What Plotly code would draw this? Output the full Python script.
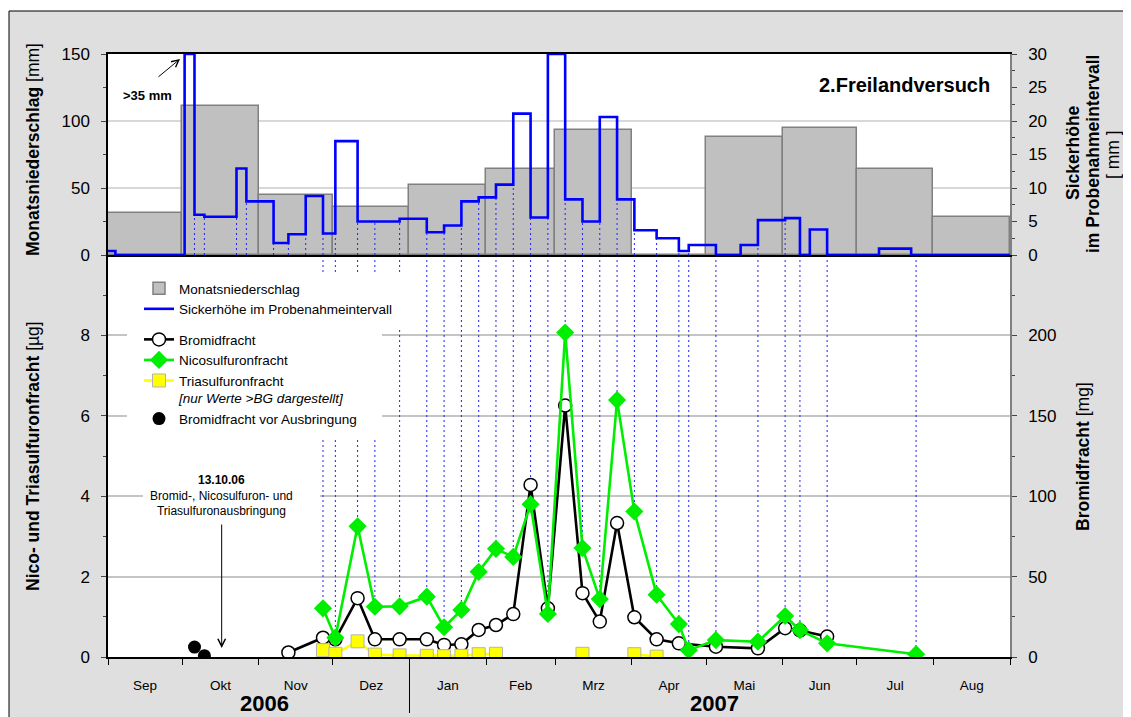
import plotly.graph_objects as go
from datetime import datetime

FONT = "Liberation Sans, Arial, Helvetica, sans-serif"

# ---------------- data ----------------
month_starts = ["2006-09-01", "2006-10-01", "2006-11-01", "2006-12-01", "2007-01-01", "2007-02-01",
                "2007-03-01", "2007-04-01", "2007-05-01", "2007-06-01", "2007-07-01", "2007-08-01"]
month_labels = ["Sep", "Okt", "Nov", "Dez", "Jan", "Feb", "Mrz", "Apr", "Mai", "Jun", "Jul", "Aug"]
precip_mm = [31, 111, 45, 36, 52, 64, 93, 0, 88, 95, 64, 28]

# Sickerhoehe im Probenahmeintervall (step: value valid from start date to next start date)
sick_starts = ["2006-09-01", "2006-09-04", "2006-10-02", "2006-10-06", "2006-10-10", "2006-10-23",
               "2006-10-27", "2006-11-07", "2006-11-13", "2006-11-20", "2006-11-27", "2006-12-02",
               "2006-12-11", "2006-12-18", "2006-12-28", "2007-01-08", "2007-01-15", "2007-01-22",
               "2007-01-29", "2007-02-05", "2007-02-12", "2007-02-19", "2007-02-26", "2007-03-05",
               "2007-03-12", "2007-03-19", "2007-03-26", "2007-04-02", "2007-04-11", "2007-04-20",
               "2007-04-24", "2007-05-05", "2007-05-15", "2007-05-22", "2007-06-02", "2007-06-08",
               "2007-06-12", "2007-06-19", "2007-07-10", "2007-07-23"]
sick_mm = [0.6, 0, 36, 6.0, 5.7, 12.9,
           8.0, 1.8, 3.1, 8.8, 3.2, 17.0,
           5.0, 5.0, 5.4, 3.4, 4.4, 8.0,
           8.6, 10.5, 21.1, 5.6, 31, 8.3,
           5.0, 20.6, 8.3, 3.7, 2.5, 0.6,
           1.5, 0, 1.5, 5.2, 5.5, 0,
           3.8, 0, 0.95, 0]

sample_dates = ["2006-11-13", "2006-11-27", "2006-12-02", "2006-12-11", "2006-12-18", "2006-12-28",
                "2007-01-08", "2007-01-15", "2007-01-22", "2007-01-29", "2007-02-05", "2007-02-12",
                "2007-02-19", "2007-02-26", "2007-03-05", "2007-03-12", "2007-03-19", "2007-03-26",
                "2007-04-02", "2007-04-11", "2007-04-20", "2007-04-24", "2007-05-05", "2007-05-22",
                "2007-06-02", "2007-06-08", "2007-06-19", "2007-07-25"]
bromid_mg = [2.8, 12, 11, 36.6, 11, 11,
             11, 7.5, 7.9, 16.8, 19.9, 26.7,
             107, 30.3, 156.4, 39.7, 22, 83.3,
             24.7, 11, 8.5, None, 6.4, 5.4,
             17.9, 16.5, 12.7, None]
nico_ug = [None, 1.21, 0.48, 3.25, 1.25, 1.26,
           1.5, 0.74, 1.17, 2.12, 2.69, 2.49,
           3.8, 1.07, 8.07, 2.71, 1.44, 6.39,
           3.62, 1.55, 0.82, 0.17, 0.42, 0.38,
           1.02, 0.67, 0.34, 0.07]
trias_ug = [None, 0.17, 0.08, 0.39, 0.06, 0.04,
            0.03, 0.02, 0.03, 0.07, 0.08, None,
            None, None, None, 0.08, None, None,
            0.07, 0.01, None, None, None, None,
            None, None, None, None]

pre_dates = ["2006-10-06", "2006-10-10"]
pre_bromid_mg = [6.2, 0.8]

X_START, X_END = "2006-09-01", "2007-09-01"
PREC_MAX, SICK_MAX, UG_MAX, MG_MAX = 150, 30, 10, 250


def d(s):
    return datetime.strptime(s, "%Y-%m-%d")


month_ends = month_starts[1:] + [X_END]
bar_widths = [(d(e) - d(s)).total_seconds() * 1000 for s, e in zip(month_starts, month_ends)]
mid_months = [d(s) + (d(e) - d(s)) / 2 for s, e in zip(month_starts, month_ends)]

# step line (values above the axis maximum are shown at the top edge)
sick_plot = [min(v, SICK_MAX) for v in sick_mm]
step_x = sick_starts + [X_END]
step_y = sick_plot + [sick_plot[-1]]

# dotted sampling lines, top panel
top_dx, top_dy = [], []
for i in range(2, len(sick_starts)):
    h = max(sick_plot[i - 1], sick_plot[i])
    top_dx += [sick_starts[i], sick_starts[i], None]
    top_dy += [0, h, None]

# dotted sampling lines, bottom panel (in mg units of the bromide axis)
k = MG_MAX / UG_MAX
bot_dx, bot_dy = [], []
for dt, b, n, t in zip(sample_dates, bromid_mg, nico_ug, trias_ug):
    if n is None:
        continue
    low = max(b or 0, n * k, (t or 0) * k)
    bot_dx += [dt, dt, None]
    bot_dy += [MG_MAX, low, None]

fig = go.Figure()
DOT = dict(color="#2020ff", width=1, dash="2px,3px")

fig.add_trace(go.Bar(x=month_starts, y=precip_mm, width=bar_widths, offset=0,
                     marker=dict(color="#c0c0c0", line=dict(color="#808080", width=1.5)),
                     name="Monatsniederschlag", xaxis="x2", yaxis="y",
                     legendgroup="a", legendrank=1))
fig.add_trace(go.Scatter(x=top_dx, y=top_dy, mode="lines", line=DOT, xaxis="x2", yaxis="y2",
                         showlegend=False, hoverinfo="skip"))
fig.add_trace(go.Scatter(x=step_x, y=step_y, mode="lines",
                         line=dict(color="#0000ff", width=2.6, shape="hv"),
                         name="Sickerhöhe im Probenahmeintervall", xaxis="x2", yaxis="y2",
                         legendgroup="a", legendrank=2))
fig.add_trace(go.Scatter(x=bot_dx, y=bot_dy, mode="lines", line=DOT, xaxis="x", yaxis="y3",
                         showlegend=False, hoverinfo="skip"))
fig.add_trace(go.Scatter(x=sample_dates, y=bromid_mg, mode="lines+markers", connectgaps=True,
                         line=dict(color="black", width=2.6),
                         marker=dict(symbol="circle", size=13, color="white",
                                     line=dict(color="black", width=1.5)),
                         name="Bromidfracht", xaxis="x", yaxis="y3",
                         legendgroup="b", legendrank=3))
fig.add_trace(go.Scatter(x=pre_dates, y=pre_bromid_mg, mode="markers",
                         marker=dict(symbol="circle", size=13, color="black"),
                         name="Bromidfracht vor Ausbringung", xaxis="x", yaxis="y3",
                         legendgroup="b", legendrank=6))
fig.add_trace(go.Scatter(x=sample_dates, y=trias_ug, mode="lines+markers", connectgaps=False,
                         line=dict(color="#ffff00", width=2.6),
                         marker=dict(symbol="square", size=13, color="#ffff00",
                                     line=dict(color="#b4b4b4", width=1)),
                         name="Triasulfuronfracht<br><i>[nur Werte &gt;BG dargestellt]</i>",
                         xaxis="x", yaxis="y4", legendgroup="b", legendrank=5))
fig.add_trace(go.Scatter(x=sample_dates, y=nico_ug, mode="lines+markers", connectgaps=True,
                         line=dict(color="#00ee00", width=2.6),
                         marker=dict(symbol="diamond", size=14, color="#00ee00"),
                         name="Nicosulfuronfracht", xaxis="x", yaxis="y4",
                         legendgroup="b", legendrank=4))


# screen pixel -> paper coordinates (plot area spans x 108..1010, y 54..657 on screen)
def px_x(px):
    return (px - 108) / 902


def px_y(py):
    return (657 - py) / 603


TICKFONT = dict(family=FONT, size=17, color="black")
common_y = dict(showgrid=False, zeroline=False, ticks="outside", ticklen=5, tickwidth=1,
                tickfont=TICKFONT, ticklabelstandoff=8, fixedrange=True)

# the page shows the figure with an 8 px offset, so the figure is 8 px smaller
fig.update_layout(
    width=1123, height=709,
    margin=dict(l=100, r=121, t=46, b=60),
    paper_bgcolor="#dfdfdf", plot_bgcolor="white",
    font=dict(family=FONT, color="black"),
    bargap=0, hovermode=False,
    xaxis=dict(domain=[0, 1], anchor="y3", type="date", range=[X_START, X_END],
               showline=True, linecolor="black", linewidth=1.5, showgrid=False, zeroline=False,
               tickmode="array", tickvals=mid_months, ticktext=month_labels,
               ticks="outside", ticklen=15, tickcolor="rgba(0,0,0,0)",
               tickfont=dict(family=FONT, size=13.5, color="black"),
               minor=dict(tickmode="array", tickvals=month_starts + [X_END], ticks="outside",
                          ticklen=6, tickcolor="black", showgrid=False)),
    xaxis2=dict(domain=[0, 1], anchor="y", matches="x", type="date",
                showline=True, mirror=True, linecolor="black", linewidth=1.5,
                showticklabels=False, ticks="", showgrid=False, zeroline=False),
    yaxis=dict(common_y, domain=[2 / 3, 1], anchor="x2", range=[0, PREC_MAX], side="left",
               tickmode="array", tickvals=[0, 50, 100, 150],
               showline=True, linecolor="black", linewidth=1.5,
               showgrid=True, gridcolor="#d8d8d8", gridwidth=2,
               minor=dict(tickmode="array", tickvals=[25, 75, 125], ticks="outside", ticklen=3,
                          showgrid=False)),
    yaxis2=dict(common_y, overlaying="y", anchor="x2", range=[0, SICK_MAX], side="right",
                tickmode="array", tickvals=[0, 5, 10, 15, 20, 25, 30],
                showline=True, linecolor="#808080", linewidth=1.5,
                minor=dict(tickmode="array", tickvals=[2.5, 7.5, 12.5, 17.5, 22.5, 27.5],
                           ticks="outside", ticklen=3, showgrid=False)),
    yaxis3=dict(common_y, domain=[0, 2 / 3], anchor="x", range=[0, MG_MAX], side="right",
                tickmode="array", tickvals=[0, 50, 100, 150, 200],
                showline=True, linecolor="#808080", linewidth=1.5,
                minor=dict(tickmode="array", tickvals=[25, 75, 125, 175, 225],
                           ticks="outside", ticklen=3, showgrid=False)),
    yaxis4=dict(common_y, overlaying="y3", anchor="x", range=[0, UG_MAX], side="left",
                tickmode="array", tickvals=[0, 2, 4, 6, 8],
                showline=True, linecolor="black", linewidth=1.5,
                showgrid=True, gridcolor="#c4c4c4", gridwidth=1.5,
                minor=dict(tickmode="array", tickvals=[1, 3, 5, 7, 9],
                           ticks="outside", ticklen=3, showgrid=False)),
    legend=dict(x=px_x(139), y=px_y(273), xanchor="left", yanchor="top",
                bgcolor="rgba(0,0,0,0)", borderwidth=0,
                font=dict(family=FONT, size=13.5, color="black"),
                itemwidth=30, traceorder="grouped", tracegroupgap=10, valign="top"),
)

FL = px_x(9)
TOP = px_y(11)
shapes = [
    dict(type="rect", xref="paper", yref="paper", x0=-0.3, x1=1.3, y0=TOP, y1=1.3,
         fillcolor="white", line=dict(width=0), layer="above"),
    dict(type="rect", xref="paper", yref="paper", x0=-0.3, x1=FL, y0=-0.3, y1=1.3,
         fillcolor="white", line=dict(width=0), layer="above"),
    dict(type="line", xref="paper", yref="paper", x0=FL, x1=1.3, y0=TOP, y1=TOP,
         line=dict(color="black", width=1)),
    dict(type="line", xref="paper", yref="paper", x0=FL, x1=FL, y0=-0.3, y1=TOP,
         line=dict(color="black", width=1)),
    dict(type="line", xref="x", yref="paper", x0="2007-01-01", x1="2007-01-01",
         y0=-0.004, y1=px_y(713), line=dict(color="black", width=1)),
    # white background behind legend and application note
    dict(type="rect", xref="paper", yref="paper", x0=px_x(127), x1=px_x(410),
         y0=px_y(330), y1=px_y(272), fillcolor="white", line=dict(width=0), layer="above"),
    dict(type="rect", xref="paper", yref="paper", x0=px_x(127), x1=px_x(382),
         y0=px_y(440), y1=px_y(330), fillcolor="white", line=dict(width=0), layer="above"),
    dict(type="rect", xref="paper", yref="paper", x0=px_x(143), x1=px_x(320),
         y0=px_y(520), y1=px_y(470), fillcolor="white", line=dict(width=0), layer="above"),
]
fig.update_layout(shapes=shapes)

TITLE = dict(family=FONT, size=17.5, color="black")
ann = [
    dict(text="<b>Monatsniederschlag</b> [mm]", x=px_x(33), y=px_y(150), textangle=-90, font=TITLE),
    dict(text="<b>Nico- und Triasulfuronfracht</b> [µg]", x=px_x(33), y=px_y(456), textangle=-90,
         font=TITLE),
    dict(text="<b>Sickerhöhe</b>", x=px_x(1073), y=px_y(153), textangle=-90, font=TITLE),
    dict(text="<b>im Probenahmeintervall</b>", x=px_x(1093), y=px_y(154), textangle=-90, font=TITLE),
    dict(text="[ mm ]", x=px_x(1113), y=px_y(155), textangle=-90, font=TITLE),
    dict(text="<b>Bromidfracht</b> [mg]", x=px_x(1083), y=px_y(457), textangle=-90, font=TITLE),
    dict(text="<b>2.Freilandversuch</b>", x=px_x(992), y=px_y(85), xanchor="right",
         font=dict(family=FONT, size=20, color="black")),
    dict(text="<b>&gt;35 mm</b>", x=px_x(147.5), y=px_y(95), font=dict(family=FONT, size=13)),
    dict(text="", x=px_x(180), y=px_y(59), ax=-23, ay=19, showarrow=True, arrowhead=5,
         arrowsize=1.4, arrowwidth=1, arrowcolor="black"),
    dict(text="<b>13.10.06</b><br>Bromid-, Nicosulfuron- und<br>Triasulfuronausbringung",
         xref="x", x="2006-10-17", y=px_y(495), font=dict(family=FONT, size=12)),
    dict(text="", xref="x", x="2006-10-17", y=px_y(648), ax=0, ay=-125, showarrow=True,
         arrowhead=5, arrowsize=1.5, arrowwidth=1, arrowcolor="black"),
    dict(text="<b>2006</b>", xref="x", x="2006-11-03 12:00", y=px_y(703),
         font=dict(family=FONT, size=22)),
    dict(text="<b>2007</b>", xref="x", x="2007-05-04 14:00", y=px_y(703),
         font=dict(family=FONT, size=22)),
]
for a in ann:
    a.setdefault("xref", "paper")
    a.setdefault("yref", "paper")
    a.setdefault("showarrow", False)
    a.setdefault("xanchor", "center")
    a.setdefault("yanchor", "middle")
fig.update_layout(annotations=ann)

fig.write_html("out.html")
